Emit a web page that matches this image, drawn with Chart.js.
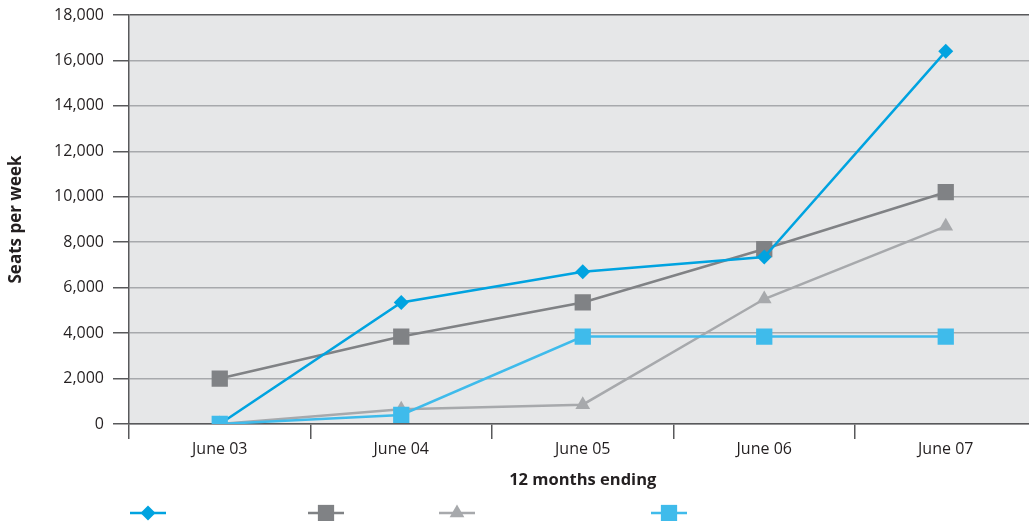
<!DOCTYPE html>
<html>
<head>
<meta charset="utf-8">
<script src="https://cdn.jsdelivr.net/npm/chart.js@4/dist/chart.umd.min.js"></script>
<style>
  html, body { margin: 0; padding: 0; background: #fff; overflow: hidden; }
  #chart { display: block; }
</style>
</head>
<body>
<canvas id="chart" width="1048" height="521"></canvas>
<script>
// data
var categories = ['June 03', 'June 04', 'June 05', 'June 06', 'June 07'];
var blueDiamond = [0, 5350, 6700, 7350, 16400];
var darkSquare = [2000, 3850, 5350, 7700, 10200];
var greyTriangle = [0, 650, 850, 5500, 8700];
var lightSquare = [0, 400, 3850, 3850, 3850];
var yTicks = [0, 2000, 4000, 6000, 8000, 10000, 12000, 14000, 16000, 18000];

var dark = '#58595b';
var txt = '#231f20';
var fontFam = '"Open Sans", "Noto Sans", sans-serif';

// grey panel behind the plot
var panelBg = {
  id: 'panelBg',
  beforeDraw: function(chart) {
    var a = chart.chartArea, c = chart.ctx;
    c.save();
    c.fillStyle = '#e6e7e8';
    c.fillRect(a.left, a.top, a.right - a.left, a.bottom - a.top);
    c.restore();
  }
};

// legend has only the markers, no text
var markerLegend = {
  id: 'markerLegend',
  afterDraw: function(chart) {
    var c = chart.ctx;
    var xs = [148, 326, 457, 669];
    var y = 513;
    chart.data.datasets.forEach(function(ds, i) {
      var x = xs[i];
      c.save();
      c.strokeStyle = ds.borderColor;
      c.lineWidth = ds.borderWidth;
      c.beginPath();
      c.moveTo(x - 18, y);
      c.lineTo(x + 18, y);
      c.stroke();
      c.fillStyle = ds.pointBackgroundColor;
      Chart.helpers.drawPoint(c, {
        pointStyle: ds.pointStyle,
        radius: ds.pointRadius,
        borderWidth: 0,
        rotation: 0
      }, x, y);
      c.restore();
    });
  }
};

function series(data, color, style, r, order) {
  return {
    data: data,
    borderColor: color,
    backgroundColor: color,
    pointBackgroundColor: color,
    pointBorderColor: color,
    pointBorderWidth: 0,
    borderWidth: 2.5,
    pointStyle: style,
    pointRadius: r,
    pointHoverRadius: r,
    tension: 0,
    order: order
  };
}

new Chart(document.getElementById('chart'), {
  type: 'line',
  data: {
    labels: categories,
    datasets: [
      series(blueDiamond, '#00a3e0', 'rectRot', 7.5, 2),
      series(darkSquare, '#808285', 'rect', 11.5, 3),
      series(greyTriangle, '#a7a9ac', 'triangle', 8.5, 4),
      series(lightSquare, '#3fbbeb', 'rect', 11.5, 1)
    ]
  },
  options: {
    responsive: false,
    animation: false,
    layout: { padding: { top: 15, right: 0, bottom: 31, left: 0 } },
    plugins: {
      legend: { display: false },
      tooltip: { enabled: false }
    },
    scales: {
      x: {
        offset: true,
        grid: {
          offset: true,
          drawOnChartArea: false,
          tickLength: 15,
          tickColor: dark,
          lineWidth: 1.5
        },
        border: { color: dark, width: 1.5 },
        ticks: { color: txt, font: { family: fontFam, size: 16 }, padding: 1, maxRotation: 0 },
        title: {
          display: true,
          text: '12 months ending',
          color: txt,
          font: { family: fontFam, size: 16.5, weight: 'bold' },
          padding: { top: 4, bottom: 0 }
        },
        afterFit: function(s) { s.height = 66; }
      },
      y: {
        min: 0,
        max: 18000,
        afterBuildTicks: function(s) { s.ticks = yTicks.map(function(v) { return { value: v }; }); },
        grid: {
          color: function(ctx) { return ctx.tick && ctx.tick.value === 18000 ? dark : '#a7a9ac'; },
          tickColor: dark,
          tickLength: 16,
          lineWidth: 1.5
        },
        border: { color: dark, width: 1.5 },
        ticks: {
          color: txt,
          font: { family: fontFam, size: 16 },
          padding: 9,
          callback: function(v) { return Number(v).toLocaleString('en-US'); }
        },
        title: {
          display: true,
          text: 'Seats per week',
          color: txt,
          font: { family: fontFam, size: 17, weight: 'bold' },
          padding: { top: 6, bottom: 0 }
        },
        afterFit: function(s) {
          s.width = 129;
          s.paddingTop = 0;
          s.paddingBottom = 0;
        }
      }
    }
  },
  plugins: [panelBg, markerLegend]
});
</script>
</body>
</html>
